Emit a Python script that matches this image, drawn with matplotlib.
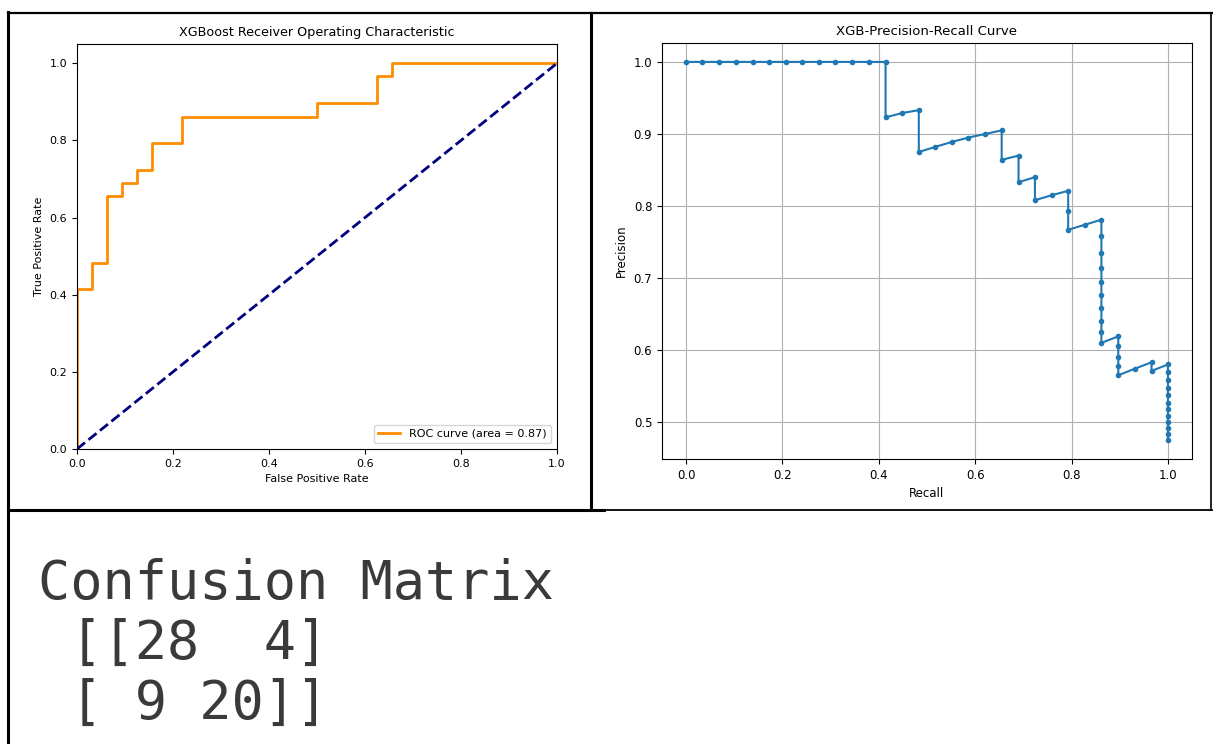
import matplotlib.pyplot as plt
from matplotlib.lines import Line2D

# ROC curve points (false positive rate / true positive rate)
fpr = [0.0, 0.0, 0.031, 0.031, 0.062, 0.062, 0.094, 0.094, 0.125, 0.125,
       0.156, 0.156, 0.219, 0.219, 0.5, 0.5, 0.625, 0.625, 0.656, 0.656, 1.0]
tpr = [0.0, 0.414, 0.414, 0.483, 0.483, 0.655, 0.655, 0.690, 0.690, 0.724,
       0.724, 0.793, 0.793, 0.862, 0.862, 0.897, 0.897, 0.966, 0.966, 1.0, 1.0]
roc_auc = 0.87

# precision-recall points
recall = [0.0, 0.034, 0.069, 0.103, 0.138, 0.172, 0.207, 0.241, 0.276, 0.310, 0.345, 0.379, 0.414,
          0.414, 0.448, 0.483,
          0.483, 0.517, 0.552, 0.586, 0.621, 0.655,
          0.655, 0.690,
          0.690, 0.724,
          0.724, 0.759, 0.793,
          0.793, 0.793, 0.828, 0.862,
          0.862, 0.862, 0.862, 0.862, 0.862, 0.862, 0.862, 0.862, 0.862,
          0.897,
          0.897, 0.897, 0.897, 0.897,
          0.931, 0.966,
          0.966, 1.0,
          1.0, 1.0, 1.0, 1.0, 1.0, 1.0, 1.0, 1.0, 1.0, 1.0, 1.0]
precision = [1.0, 1.0, 1.0, 1.0, 1.0, 1.0, 1.0, 1.0, 1.0, 1.0, 1.0, 1.0, 1.0,
             0.923, 0.929, 0.933,
             0.875, 0.882, 0.889, 0.895, 0.900, 0.905,
             0.864, 0.870,
             0.833, 0.840,
             0.808, 0.815, 0.821,
             0.793, 0.767, 0.774, 0.781,
             0.758, 0.735, 0.714, 0.694, 0.676, 0.658, 0.641, 0.625, 0.610,
             0.619,
             0.605, 0.591, 0.578, 0.565,
             0.574, 0.583,
             0.571, 0.580,
             0.569, 0.558, 0.547, 0.537, 0.527, 0.518, 0.509, 0.500, 0.492, 0.483, 0.475]

conf_matrix = [[28, 4], [9, 20]]

W, H = 1213, 744
fig = plt.figure(figsize=(W / 100, H / 100), dpi=100)


def px_rect(x0, y0, x1, y1):
    # pixel box (top-left origin) -> figure fraction rect
    return [x0 / W, 1 - y1 / H, (x1 - x0) / W, (y1 - y0) / H]


# ---- ROC ----
ax1 = fig.add_axes(px_rect(77, 44, 557, 449))
ax1.plot(fpr, tpr, color='darkorange', lw=2, label='ROC curve (area = %0.2f)' % roc_auc)
ax1.plot([0, 1], [0, 1], color='navy', lw=2, linestyle='--')
ax1.set_xlim([0.0, 1.0])
ax1.set_ylim([0.0, 1.05])
ax1.set_xlabel('False Positive Rate', fontsize=8)
ax1.set_ylabel('True Positive Rate', fontsize=8)
ax1.set_title('XGBoost Receiver Operating Characteristic', fontsize=9.2)
ax1.tick_params(labelsize=8)
ax1.legend(loc='lower right', fontsize=8)

# ---- Precision-Recall ----
ax2 = fig.add_axes(px_rect(662, 43, 1192, 459))
ax2.plot(recall, precision, marker='.')
ax2.set_xlabel('Recall', fontsize=8.5)
ax2.set_ylabel('Precision', fontsize=8.5)
ax2.set_title('XGB-Precision-Recall Curve', fontsize=9.5)
ax2.tick_params(labelsize=8.5)
ax2.grid()

# ---- confusion matrix printout ----
cm_text = 'Confusion Matrix\n [[%2d %2d]\n [%2d %2d]]' % (conf_matrix[0][0], conf_matrix[0][1],
                                                       conf_matrix[1][0], conf_matrix[1][1])
fig.text(38 / W, 1 - 558 / H, cm_text, family='DejaVu Sans Mono', fontsize=38.5,
         color='#3a3a3a', va='top', ha='left', linespacing=1.2)

# ---- table borders ----
def border(x0, y0, x1, y1, lw):
    fig.add_artist(Line2D([x0 / W, x1 / W], [1 - y0 / H, 1 - y1 / H], color='black', lw=lw))


border(8, 13, 1212, 13, 1.6)
border(8, 12, 8, 744, 2.2)
border(591, 13, 591, 510, 2.2)
border(1211, 13, 1211, 510, 1.2)
border(8, 510, 604, 510, 2.2)
border(604, 510, 1212, 510, 1.3)

plt.savefig('out.png', dpi=100)
